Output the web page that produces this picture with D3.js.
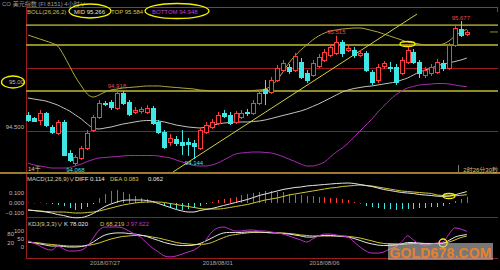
<!DOCTYPE html>
<html>
<head>
<meta charset="utf-8">
<script src="https://cdn.jsdelivr.net/npm/d3@7"></script>
<style>
  html, body { margin: 0; padding: 0; background: #000; }
  svg { display: block; }
  text { font-family: "Liberation Sans", "Noto Sans CJK SC", sans-serif; font-size: 6px; }
</style>
</head>
<body>
<div id="chart"></div>
<script>
// 4h candles, US dollar index
const open = [94.633,94.600,94.578,94.656,94.500,94.433,94.556,94.211,94.100,94.156,
  94.267,94.467,94.611,94.767,94.778,94.711,94.878,94.778,94.667,94.670,
  94.667,94.711,94.556,94.444,94.333,94.367,94.333,94.333,94.322,94.267,
  94.444,94.500,94.544,94.656,94.633,94.556,94.611,94.667,94.656,94.767,
  94.922,94.889,95.022,95.133,95.167,95.133,95.222,95.100,95.078,95.178,
  95.244,95.300,95.322,95.444,95.356,95.356,95.300,95.322,95.111,95.022,
  95.178,95.172,95.167,95.100,95.222,95.333,95.222,95.078,95.100,95.111,
  95.211,95.156,95.411,95.589,95.533];
const high = [94.667,94.611,94.689,94.667,94.522,94.578,94.578,94.244,94.189,94.289,
  94.467,94.633,94.800,94.789,94.800,94.918,94.900,94.800,94.722,94.725,
  94.744,94.733,94.578,94.467,94.422,94.400,94.467,94.378,94.356,94.489,
  94.556,94.589,94.667,94.689,94.667,94.678,94.689,94.700,94.800,94.911,
  95.022,95.056,95.189,95.244,95.200,95.322,95.267,95.133,95.244,95.311,
  95.367,95.422,95.515,95.467,95.400,95.389,95.356,95.344,95.133,95.200,
  95.233,95.222,95.200,95.278,95.422,95.367,95.244,95.167,95.200,95.256,
  95.244,95.433,95.622,95.677,95.578];
const low = [94.556,94.556,94.522,94.500,94.422,94.411,94.178,94.111,94.068,94.133,
  94.244,94.444,94.589,94.733,94.689,94.689,94.744,94.622,94.644,94.648,
  94.644,94.522,94.422,94.256,94.289,94.289,94.189,94.178,94.144,94.244,
  94.422,94.478,94.522,94.600,94.522,94.533,94.589,94.622,94.633,94.744,
  94.744,94.867,95.000,95.111,95.089,95.111,95.033,94.989,95.056,95.156,
  95.222,95.278,95.300,95.278,95.333,95.267,95.278,95.111,94.967,94.989,
  95.144,95.111,94.967,95.078,95.200,95.200,95.044,95.044,95.067,95.089,
  95.122,95.133,95.389,95.500,95.511];
const close = [94.578,94.567,94.656,94.522,94.444,94.556,94.189,94.133,94.167,94.267,
  94.433,94.611,94.767,94.756,94.722,94.878,94.767,94.644,94.689,94.695,
  94.711,94.544,94.444,94.278,94.378,94.322,94.300,94.311,94.289,94.467,
  94.522,94.556,94.633,94.622,94.544,94.656,94.656,94.656,94.767,94.878,
  94.878,95.022,95.156,95.211,95.122,95.289,95.056,95.022,95.211,95.278,
  95.333,95.389,95.444,95.322,95.378,95.300,95.322,95.133,95.000,95.167,
  95.211,95.161,95.000,95.244,95.356,95.222,95.100,95.133,95.167,95.222,
  95.156,95.411,95.600,95.522,95.556];

// BOLL(26,26,2)
const bollTop = [95.522,95.500,95.478,95.456,95.433,95.400,95.300,95.178,95.056,94.956,
  94.867,94.833,94.856,94.889,94.911,94.922,94.933,94.939,94.944,94.950,
  94.956,94.956,94.956,94.950,94.944,94.939,94.933,94.928,94.922,94.911,
  94.906,94.900,94.900,94.900,94.900,94.900,94.900,94.900,94.906,94.911,
  94.922,94.956,95.022,95.111,95.211,95.289,95.356,95.411,95.467,95.511,
  95.544,95.567,95.578,95.589,95.594,95.600,95.600,95.589,95.572,95.556,
  95.533,95.511,95.489,95.467,95.444,95.433,95.422,95.411,95.411,95.411,
  95.422,95.456,95.511,95.556,95.584];
const bollMid = [94.822,94.811,94.800,94.789,94.767,94.744,94.711,94.678,94.633,94.589,
  94.533,94.489,94.478,94.489,94.500,94.517,94.533,94.544,94.556,94.567,
  94.572,94.572,94.567,94.556,94.539,94.522,94.511,94.500,94.494,94.489,
  94.500,94.517,94.533,94.544,94.550,94.556,94.556,94.556,94.561,94.567,
  94.578,94.594,94.611,94.628,94.644,94.661,94.678,94.700,94.728,94.756,
  94.789,94.822,94.856,94.889,94.911,94.928,94.939,94.950,94.956,94.967,
  94.978,94.989,95.000,95.022,95.044,95.078,95.111,95.133,95.156,95.178,
  95.200,95.211,95.228,95.244,95.266];
const bollBottom = [94.100,94.078,94.067,94.056,94.044,94.044,94.044,94.050,94.067,94.089,
  94.117,94.139,94.156,94.161,94.167,94.172,94.178,94.183,94.183,94.183,
  94.183,94.183,94.178,94.167,94.156,94.133,94.111,94.089,94.072,94.067,
  94.067,94.078,94.100,94.133,94.167,94.200,94.211,94.217,94.222,94.222,
  94.217,94.211,94.194,94.172,94.144,94.117,94.089,94.067,94.067,94.083,
  94.111,94.167,94.222,94.267,94.322,94.389,94.456,94.522,94.589,94.667,
  94.733,94.800,94.856,94.900,94.933,94.950,94.967,94.972,94.978,94.983,
  94.983,94.978,94.967,94.956,94.948];

// MACD(12,26,9)
const diff = [-0.070,-0.076,-0.082,-0.090,-0.100,-0.115,-0.125,-0.140,-0.148,-0.146,
  -0.130,-0.105,-0.070,-0.035,-0.010,0.010,0.025,0.030,0.030,0.030,
  0.025,0.015,-0.005,-0.025,-0.045,-0.065,-0.080,-0.090,-0.090,-0.075,
  -0.065,-0.055,-0.040,-0.025,-0.010,0.005,0.020,0.035,0.055,0.075,
  0.090,0.105,0.120,0.135,0.145,0.155,0.160,0.170,0.175,0.180,
  0.185,0.190,0.195,0.198,0.200,0.195,0.185,0.175,0.165,0.150,
  0.135,0.125,0.115,0.105,0.100,0.095,0.085,0.080,0.075,0.068,
  0.066,0.070,0.082,0.098,0.114];
const dea = [-0.070,-0.075,-0.080,-0.085,-0.088,-0.090,-0.090,-0.095,-0.100,-0.100,
  -0.095,-0.090,-0.080,-0.065,-0.050,-0.035,-0.020,-0.010,0.000,0.007,
  0.010,0.010,0.010,0.005,-0.005,-0.015,-0.025,-0.035,-0.045,-0.055,
  -0.060,-0.060,-0.060,-0.055,-0.045,-0.035,-0.025,-0.015,0.000,0.015,
  0.030,0.040,0.050,0.065,0.080,0.090,0.100,0.110,0.120,0.130,
  0.140,0.150,0.155,0.165,0.170,0.175,0.180,0.175,0.170,0.160,
  0.150,0.140,0.130,0.120,0.115,0.110,0.105,0.100,0.095,0.080,
  0.075,0.070,0.072,0.077,0.083];
const macdBar = [0.005,-0.003,0.004,-0.005,-0.01,-0.02,-0.03,-0.05,-0.07,-0.06,
  -0.04,-0.01,0.05,0.09,0.12,0.13,0.11,0.09,0.07,0.05,
  0.04,0.02,0.005,-0.03,-0.05,-0.06,-0.07,-0.06,-0.05,-0.03,
  -0.01,0.01,0.03,0.04,0.05,0.06,0.08,0.09,0.10,0.11,
  0.12,0.12,0.11,0.11,0.09,0.08,0.08,0.07,0.07,0.06,
  0.06,0.05,0.05,0.04,0.03,0.01,-0.005,-0.03,-0.04,-0.05,
  -0.06,-0.06,-0.07,-0.06,-0.06,-0.06,-0.05,-0.05,-0.04,-0.04,
  -0.03,-0.01,0.02,0.04,0.062];

// KDJ(9,3,3)
const kLine = [31,25,19,12,6,6,3,0,0,3,
  12,31,56,75,84,88,88,84,81,75,
  66,53,41,28,19,12,9,9,12,22,
  38,56,75,88,91,91,91,94,94,94,
  91,88,88,84,81,75,69,62,62,69,
  72,72,69,66,62,53,41,28,19,12,
  9,9,12,19,28,28,25,22,22,22,
  25,41,62,72,78.020];
const dLine = [31,28,25,19,16,12,9,6,6,6,
  9,16,25,38,50,59,66,69,72,72,
  69,62,56,47,38,28,22,19,16,16,
  19,28,44,59,72,78,84,88,91,91,
  91,91,88,88,84,81,75,72,69,69,
  69,69,69,69,66,62,56,47,38,28,
  22,19,16,16,19,22,22,22,22,22,
  25,31,44,59,68.219];
const jLine = [38,25,6,-12,-19,6,-12,-25,-25,-19,
  6,56,106,125,125,125,119,100,81,62,
  25,-6,-31,-56,-62,-56,-44,-31,-19,6,
  44,94,119,125,112,100,100,106,106,100,
  100,94,88,81,69,56,44,31,50,69,
  81,81,75,69,62,31,0,-25,-38,-38,
  -31,-12,0,31,69,44,19,12,19,25,
  31,81,119,112,97.622];

// ticks, dates, drawn levels
const priceTicks = [95.0, 94.5];
const priceTickLabels = ['95.00', '94.500'];
const macdTicks = [0.1, 0, -0.1];
const kdjTicks = [100, 80, 50, 20, 0];
const dateBars = [13, 32, 50];
const dateLabels = ['2018/07/27', '2018/08/01', '2018/08/06'];
const supportLines = [95.633, 95.411, 94.900];
const gridLines = [95.156, 94.456];
const trendFrom = [24.45, 94.0];
const trendTo = [65.6, 95.755];
const markHighs = [15, 52, 73];
const markLows = [8, 28];

const W = 500, H = 270;
const L = 26, R = 498;
const mainTop = 7, mainBot = 173, macdBot = 218, kdjBot = 258;
const red = '#ff3b3b', cyan = '#3fe6e6', olive = '#8f8d24', gridRed = '#9a1b1b';

const svg = d3.select('#chart').append('svg')
  .attr('width', W)
  .attr('height', H);
svg.append('rect').attr('width', W).attr('height', H).attr('fill', '#000');

// scales
const x = d3.scaleLinear().domain([0, close.length - 1]).range([28, 466.8]);
const y = d3.scaleLinear().domain([94.5, 95.0]).range([127, 82]);
const yM = d3.scaleLinear().domain([-0.1, 0.1]).range([213, 193]);
const yK = d3.scaleLinear().domain([0, 100]).range([247, 231]);
const px = v => Math.round(v) + 0.5;

svg.append('clipPath').attr('id', 'clipMain')
  .append('rect').attr('x', L).attr('y', mainTop).attr('width', R - L).attr('height', mainBot - mainTop);

// title row
svg.append('text').attr('x', 2).attr('y', 5.5).attr('fill', '#9a9a9a')
  .text('CO 美元指数 (FI 8151)  4小时∨');

// frame
const frame = svg.append('g').attr('stroke', gridRed).attr('stroke-width', 1);
frame.append('line').attr('x1', L).attr('x2', R).attr('y1', 7.5).attr('y2', 7.5).attr('stroke', '#c02424');
frame.append('line').attr('x1', R - 0.5).attr('x2', R - 0.5).attr('y1', 7).attr('y2', 12).attr('stroke', '#c02424');
frame.append('line').attr('x1', L + 0.5).attr('x2', L + 0.5).attr('y1', 7).attr('y2', kdjBot);
frame.append('line').attr('x1', L).attr('x2', R).attr('y1', macdBot - 0.5).attr('y2', macdBot - 0.5);
frame.append('line').attr('x1', L).attr('x2', R).attr('y1', kdjBot + 0.5).attr('y2', kdjBot + 0.5);

// horizontal levels in the main panel
svg.append('g').selectAll('line').data(gridLines).enter().append('line')
  .attr('x1', L).attr('x2', R)
  .attr('y1', d => px(y(d))).attr('y2', d => px(y(d)))
  .attr('stroke', gridRed);
svg.append('g').selectAll('line').data(supportLines).enter().append('line')
  .attr('x1', L).attr('x2', R)
  .attr('y1', d => y(d)).attr('y2', d => y(d))
  .attr('stroke', olive).attr('stroke-width', 1.8);

// panel separator
svg.append('line').attr('x1', 0).attr('x2', W).attr('y1', mainBot).attr('y2', mainBot)
  .attr('stroke', '#a07c2a').attr('stroke-width', 2);

// y axis labels
const axisText = (g, vals, sc, fmt, ax) => g.selectAll('text').data(vals).enter().append('text')
  .attr('x', ax || 24).attr('y', d => sc(d) + 2).attr('text-anchor', 'end')
  .attr('fill', '#bdbdbd').text(fmt);
axisText(svg.append('g'), priceTicks, y, (d, i) => priceTickLabels[i]);
axisText(svg.append('g'), macdTicks, yM, d => d3.format('.3f')(d));
// kdj ticks sit tight, so every other one is nudged left
axisText(svg.append('g').style('font-size', '4.5px'), kdjTicks, v => yK(v) - 0.4, d => d,
  (d, i) => i % 2 ? 14 : 24);

// bollinger bands
const main = svg.append('g').attr('clip-path', 'url(#clipMain)');
const bandLine = arr => d3.line().x((d, i) => x(i)).y(d => y(d)).curve(d3.curveMonotoneX)(arr);
main.append('path').attr('d', bandLine(bollTop)).attr('fill', 'none').attr('stroke', '#b3a83a');
main.append('path').attr('d', bandLine(bollMid)).attr('fill', 'none').attr('stroke', '#c4c4bc');
main.append('path').attr('d', bandLine(bollBottom)).attr('fill', 'none').attr('stroke', '#a82cb0');

// trend line
main.append('line')
  .attr('x1', x(trendFrom[0])).attr('y1', y(trendFrom[1]))
  .attr('x2', x(trendTo[0])).attr('y2', y(trendTo[1]))
  .attr('stroke', '#d2d23c');

// candles
const candles = main.selectAll('.candle').data(close).enter().append('g').attr('class', 'candle');
candles.append('line')
  .attr('x1', (d, i) => px(x(i))).attr('x2', (d, i) => px(x(i)))
  .attr('y1', (d, i) => y(high[i])).attr('y2', (d, i) => y(low[i]))
  .attr('stroke', (d, i) => d >= open[i] ? red : cyan);
candles.append('rect')
  .attr('x', (d, i) => Math.round(x(i)) - 1.5)
  .attr('y', (d, i) => Math.round(y(Math.max(d, open[i]))) + 0.5)
  .attr('width', 4)
  .attr('height', (d, i) => Math.max(1, Math.round(Math.abs(y(d) - y(open[i])))))
  .attr('fill', (d, i) => d >= open[i] ? '#000' : cyan)
  .attr('stroke', (d, i) => d >= open[i] ? red : cyan);

// high / low markers
svg.append('g').selectAll('text').data(markHighs).enter().append('text')
  .attr('x', i => x(i)).attr('y', i => y(high[i]) - 1.5).attr('text-anchor', 'middle')
  .attr('fill', '#f04848').text(i => high[i].toFixed(3));
svg.append('g').selectAll('text').data(markLows).enter().append('text')
  .attr('x', i => x(i)).attr('y', i => y(low[i]) + 6).attr('text-anchor', 'middle')
  .attr('fill', cyan).text(i => low[i].toFixed(3));

// last price marker
svg.append('line').attr('x1', 490).attr('x2', R)
  .attr('y1', y(close[close.length - 1])).attr('y2', y(close[close.length - 1]))
  .attr('stroke', olive);

svg.append('text').attr('x', 28).attr('y', 171).attr('fill', '#d8d0a0').text('14千');
svg.append('line').attr('x1', 458.5).attr('x2', 458.5).attr('y1', 165).attr('y2', 172).attr('stroke', '#777');
svg.append('text').attr('x', R).attr('y', 171.5).attr('text-anchor', 'end').attr('fill', '#d6c27a').text('2时26分30秒');

// legends
const legend = (yy, items) => items.forEach(it => svg.append('text')
  .attr('x', it[0]).attr('y', yy).attr('fill', it[2]).text(it[1]));
legend(13.5, [[27, 'BOLL(26,26,2)', '#c9bf5a'], [74, 'MID ' + bollMid[74].toFixed(3), '#e4e0c4'],
  [111, 'TOP ' + bollTop[74].toFixed(3), '#d8c640'], [152, 'BOTTOM ' + bollBottom[74].toFixed(3), '#c43ad0']]);
legend(180.5, [[27, 'MACD(12,26,9)∨', '#d8d4b0'], [75, 'DIFF ' + diff[74].toFixed(3), '#e8e8e8'],
  [110, 'DEA ' + dea[74].toFixed(3), '#d8c640'], [148, macdBar[74].toFixed(3), '#e8e8e8']]);
legend(225.5, [[28, 'KDJ(9,3,3)∨', '#d8d4b0'], [64, 'K ' + kLine[74].toFixed(3), '#e8e8e8'],
  [100, 'D ' + dLine[74].toFixed(3), '#d8c640'], [126, 'J ' + jLine[74].toFixed(3), '#c43ad0']]);

// MACD histogram + lines
svg.append('g').selectAll('line').data(macdBar).enter().append('line')
  .attr('x1', (d, i) => px(x(i))).attr('x2', (d, i) => px(x(i)))
  .attr('y1', yM(0)).attr('y2', d => yM(d))
  .attr('stroke', d => d >= 0 ? red : cyan);
const mLine = d3.line().x((d, i) => x(i)).y(d => yM(d)).curve(d3.curveMonotoneX);
svg.append('path').attr('d', mLine(dea)).attr('fill', 'none').attr('stroke', '#d2c832');
svg.append('path').attr('d', mLine(diff)).attr('fill', 'none').attr('stroke', '#e6e6e6');

// KDJ lines
const kLineGen = d3.line().x((d, i) => x(i)).y(d => yK(d)).curve(d3.curveMonotoneX);
svg.append('path').attr('d', kLineGen(dLine)).attr('fill', 'none').attr('stroke', '#d2c832');
svg.append('path').attr('d', kLineGen(kLine)).attr('fill', 'none').attr('stroke', '#e6e6e6');
svg.append('path').attr('d', kLineGen(jLine)).attr('fill', 'none').attr('stroke', '#c030c8');

// date labels
svg.append('g').selectAll('text').data(dateBars).enter().append('text')
  .attr('x', d => x(d)).attr('y', 265).attr('text-anchor', 'middle')
  .attr('fill', '#a8a8a8').text((d, i) => dateLabels[i]);

// yellow highlight rings
const ring = svg.append('g').attr('fill', 'none').attr('stroke', '#f2f000').attr('stroke-width', 1.3);
ring.append('ellipse').attr('cx', 90).attr('cy', 11).attr('rx', 21).attr('ry', 7);
ring.append('ellipse').attr('cx', 177).attr('cy', 11).attr('rx', 32).attr('ry', 7.5);
ring.append('ellipse').attr('cx', 13).attr('cy', y(priceTicks[0])).attr('rx', 11.5).attr('ry', 6);
ring.append('ellipse').attr('cx', x(64)).attr('cy', y(high[64])).attr('rx', 7.5).attr('ry', 2.5);
ring.append('ellipse').attr('cx', x(71)).attr('cy', yM(diff[71])).attr('rx', 6).attr('ry', 2.5);
ring.append('circle').attr('cx', x(70)).attr('cy', yK(kLine[70])).attr('r', 4);

// watermark
svg.append('rect').attr('x', 388).attr('y', 243).attr('width', 105).attr('height', 17)
  .attr('fill', 'rgba(200,200,200,0.6)');
svg.append('text').attr('x', 440.5).attr('y', 258).attr('text-anchor', 'middle')
  .attr('textLength', 102).style('font-size', '14px').style('font-weight', 'bold')
  .attr('fill', '#e8812c').text('GOLD678.COM');
</script>
</body>
</html>
